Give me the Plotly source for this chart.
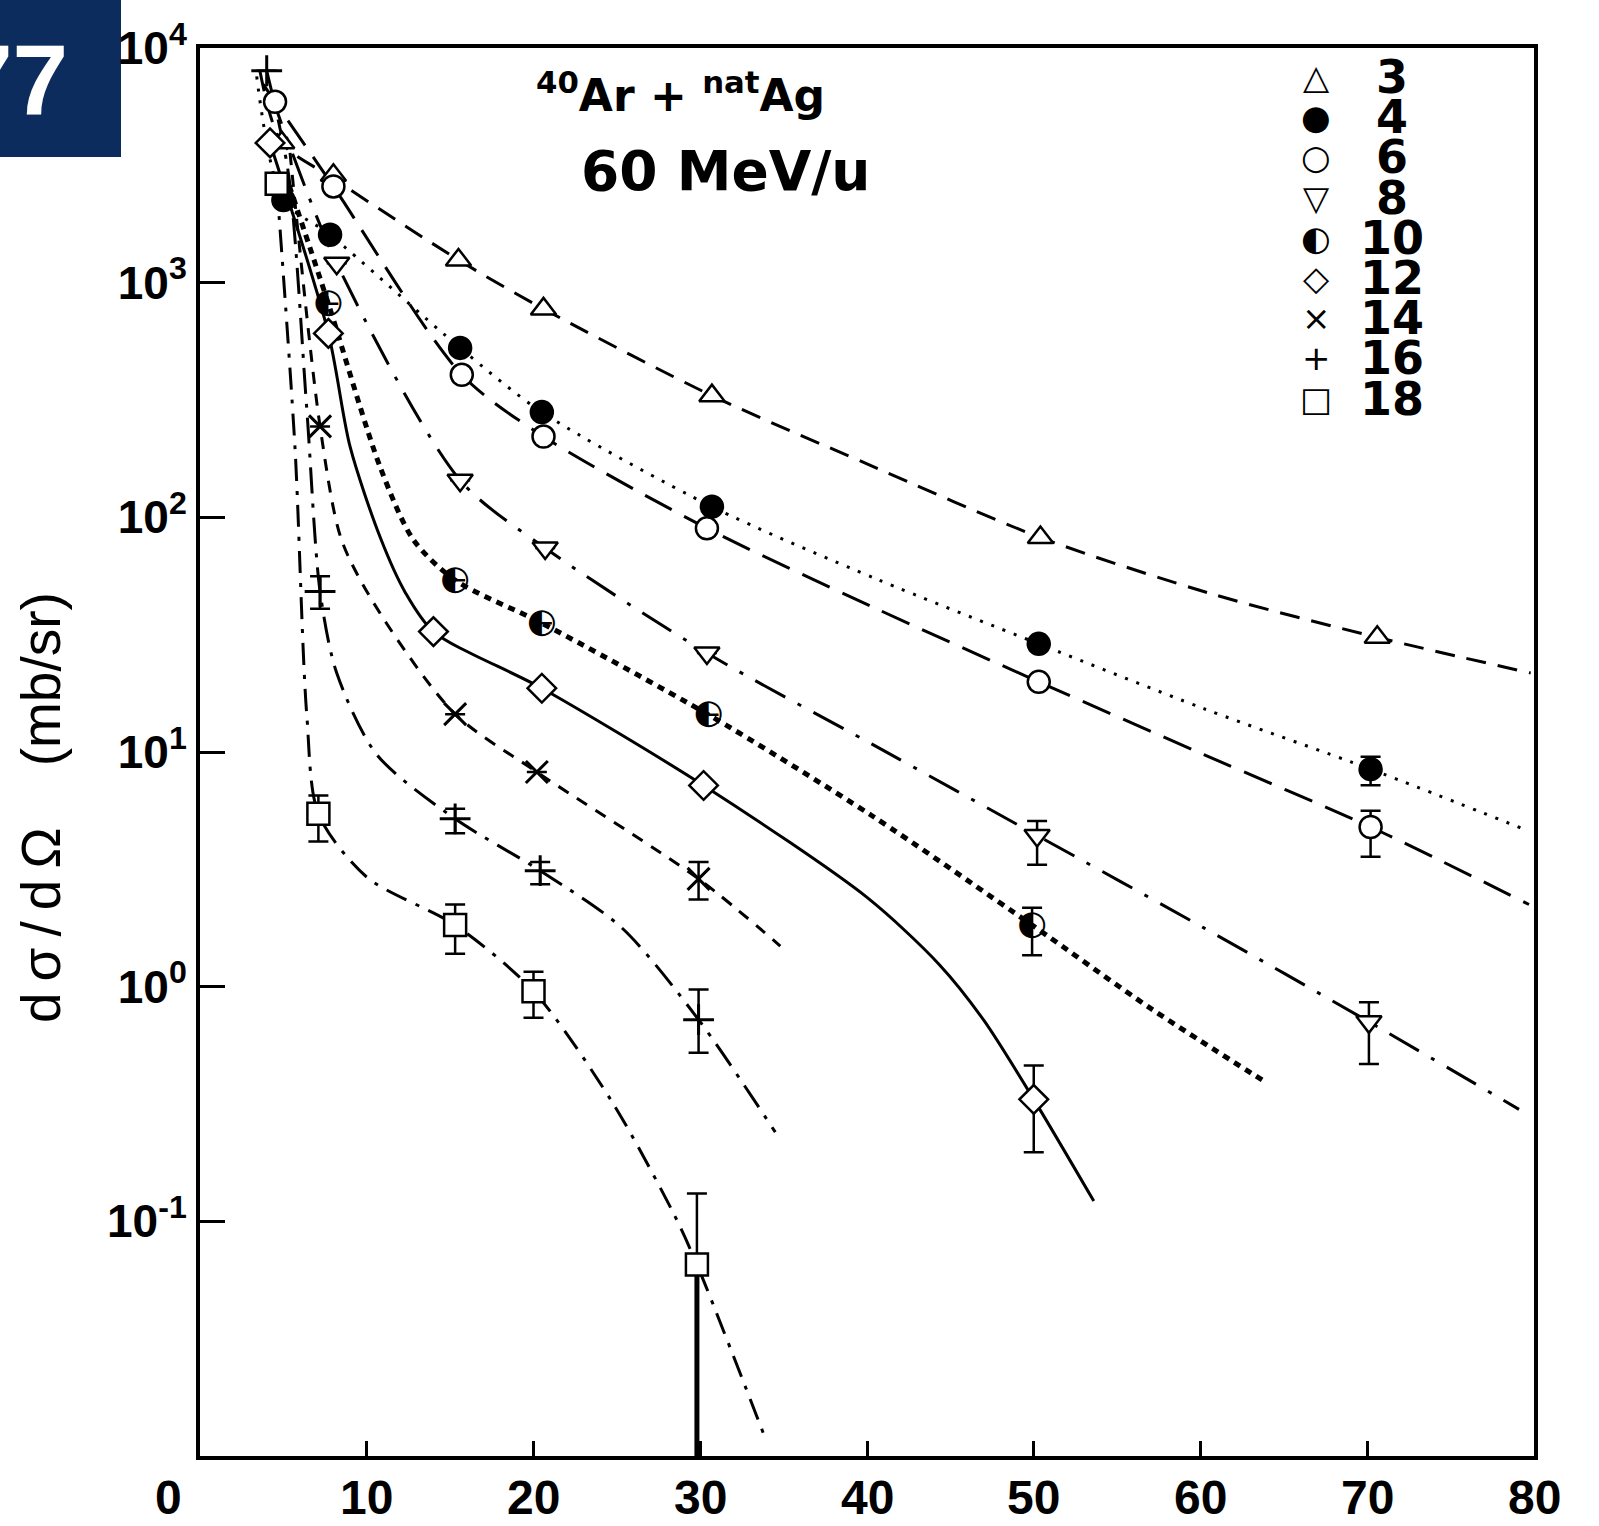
import plotly.graph_objects as go

# ---------------------------------------------------------------
# 40Ar + natAg at 60 MeV/u : fragment angular distributions
# x = laboratory angle (deg), y = dσ/dΩ (mb/sr), one set per fragment Z
# ---------------------------------------------------------------

# measured points
z3_x = [4.9, 8.0, 15.5, 20.6, 30.7, 50.4, 70.6]
z3_y = [3950, 2870, 1250, 773, 330, 82, 30.8]

z4_x = [5.0, 7.8, 15.6, 20.5, 30.7, 50.3, 70.2]
z4_y = [2250, 1600, 527, 281, 111, 28.9, 8.45]
z4_up = [None, None, None, None, None, None, 1.1]
z4_dn = [None, None, None, None, None, None, 1.24]

z6_x = [4.5, 8.0, 15.7, 20.6, 30.4, 50.3, 70.2]
z6_y = [5900, 2570, 405, 221, 89.8, 19.9, 4.79]
z6_up = [None, None, None, None, None, None, 0.83]
z6_dn = [None, None, None, None, None, None, 1.21]

z8_x = [8.2, 15.6, 20.7, 30.4, 50.2, 70.1]
z8_y = [1210, 144, 74, 26.4, 4.41, 0.708]
z8_up = [None, None, None, None, 0.67, 0.15]
z8_dn = [None, None, None, None, 1.10, 0.24]

z10_x = [7.7, 15.3, 20.5, 30.5, 49.9]
z10_y = [813, 54, 35.4, 14.4, 1.83]
z10_up = [None, None, None, None, 0.34]
z10_dn = [None, None, None, None, 0.47]

z12_x = [4.2, 7.7, 14.0, 20.5, 30.2, 50.0]
z12_y = [3940, 608, 32.6, 18.7, 7.2, 0.331]
z12_up = [None, None, None, None, None, 0.13]
z12_dn = [None, None, None, None, None, 0.134]

z14_x = [7.2, 15.3, 20.2, 29.9]
z14_y = [244, 14.5, 8.22, 2.88]
z14_up = [None, None, None, 0.52]
z14_dn = [None, None, None, 0.53]

z16_x = [4.0, 7.2, 15.3, 20.4, 29.9]
z16_y = [8000, 48.3, 5.19, 3.12, 0.723]
z16_up = [None, 7.8, 0.54, 0.28, 0.25]
z16_dn = [None, 7.5, 0.68, 0.39, 0.20]

z18_x = [4.6, 7.1, 15.3, 20.0, 29.8]
z18_y = [2640, 5.45, 1.83, 0.957, 0.0655]
z18_up = [None, 1.08, 0.41, 0.20, 0.066]
z18_dn = [None, 1.29, 0.45, 0.22, None]
z18_last_dn = 0.0650   # lower error of the 30 deg point reaches below the axis

# calculated curves
fit3_x = [3.6, 4.9, 8.0, 15.5, 20.6, 30.7, 40.0, 50.4, 60.8, 70.6, 79.8]
fit3_y = [7940, 3950, 2780, 1250, 773, 330, 169, 82, 46.9, 30.8, 21.7]

fit4_x = [3.4, 5.0, 7.8, 15.6, 20.5, 30.7, 40.6, 50.3, 60.2, 70.2, 79.7]
fit4_y = [7570, 2250, 1600, 527, 281, 111, 54.5, 28.9, 15.3, 8.45, 4.6]

fit6_x = [3.8, 4.5, 8.0, 15.7, 20.6, 30.4, 40.3, 50.3, 60.2, 70.2, 79.7]
fit6_y = [7000, 5900, 2570, 405, 221, 89.8, 41.6, 19.9, 9.75, 4.79, 2.24]

fit8_x = [4.2, 8.2, 15.6, 20.7, 30.4, 40.3, 50.2, 60.2, 70.1, 79.1]
fit8_y = [6520, 1210, 144, 74, 26.4, 10.8, 4.41, 1.78, 0.708, 0.30]

fit10_x = [5.1, 7.7, 10.8, 12.8, 15.3, 20.5, 30.5, 40.3, 49.9, 57.1, 64.0]
fit10_y = [2930, 813, 164, 80.2, 54, 35.4, 14.4, 5.35, 1.83, 0.80, 0.388]

fit12_x = [4.2, 7.7, 9.0, 10.8, 12.3, 14.0, 20.5, 30.2, 40.0, 44.3, 47.0, 50.0, 53.6]
fit12_y = [3940, 608, 200, 82.4, 48, 32.6, 18.7, 7.2, 2.40, 1.25, 0.72, 0.331, 0.122]

fit14_x = [5.4, 7.2, 8.5, 10.8, 15.3, 20.2, 29.9, 34.8]
fit14_y = [3570, 244, 79.7, 39, 14.5, 8.22, 2.88, 1.49]

fit16_x = [4.0, 5.3, 6.4, 7.2, 8.2, 10.6, 15.3, 20.4, 25.3, 29.9, 34.5]
fit16_y = [8000, 2930, 292, 48.3, 21.7, 9.75, 5.19, 3.12, 1.78, 0.723, 0.240]

fit18_x = [4.6, 5.7, 6.4, 7.1, 10.0, 15.3, 20.0, 24.7, 28.4, 29.8, 33.9]
fit18_y = [2640, 196, 14.5, 5.45, 2.93, 1.83, 0.957, 0.324, 0.108, 0.0655, 0.0119]

legend_labels = ["3", "4", "6", "8", "10", "12", "14", "16", "18"]
legend_glyphs = ["△", "●", "○", "▽", "◐", "◇", "×", "+", "□"]

x_ticks = [10, 20, 30, 40, 50, 60, 70, 80]
y_ticks = [0.1, 1, 10, 100, 1000, 10000]
y_tick_text = ["10<sup>-1</sup>", "10<sup>0</sup>", "10<sup>1</sup>",
               "10<sup>2</sup>", "10<sup>3</sup>", "10<sup>4</sup>"]

# ---------------------------------------------------------------
W, H = 1599, 1526
ML, MR, MT, MB = 200, 65, 48, 70
PW, PH = W - ML - MR, H - MT - MB


def paper_x(px):
    return (px - ML) / PW


def paper_y(py):
    return 1 - (py - MT) / PH


INK = "black"
fig = go.Figure()

curves = [
    (fit3_x, fit3_y, dict(width=3, dash="20px,12px")),
    (fit4_x, fit4_y, dict(width=3, dash="3px,9px")),
    (fit6_x, fit6_y, dict(width=3, dash="30px,14px")),
    (fit8_x, fit8_y, dict(width=3, dash="34px,14px,4px,14px")),
    (fit10_x, fit10_y, dict(width=5, dash="7px,6px")),
    (fit12_x, fit12_y, dict(width=3)),
    (fit14_x, fit14_y, dict(width=3, dash="12px,10px")),
    (fit16_x, fit16_y, dict(width=3, dash="26px,10px,4px,10px")),
    (fit18_x, fit18_y, dict(width=3, dash="22px,10px,4px,10px")),
]
for cx, cy, ln in curves:
    fig.add_trace(go.Scatter(x=cx, y=cy, mode="lines",
                             line=dict(color=INK, shape="spline", smoothing=0.8, **ln),
                             hoverinfo="skip"))


def err(up, dn, thick=2.5):
    return dict(type="data", symmetric=False, array=up, arrayminus=dn,
                color=INK, thickness=thick, width=10)


# thick lower bar of the Z=18 point at 30 deg
fig.add_trace(go.Scatter(x=z18_x[-1:], y=z18_y[-1:], mode="markers",
                         marker=dict(size=1, color="rgba(0,0,0,0)"),
                         error_y=dict(type="data", symmetric=False, array=[0],
                                      arrayminus=[z18_last_dn], color=INK,
                                      thickness=5, width=0)))

MS = 22
LW = 2.5
sets = [
    (z3_x, z3_y, None, None, "triangle-up", "white"),
    (z4_x, z4_y, z4_up, z4_dn, "circle", INK),
    (z6_x, z6_y, z6_up, z6_dn, "circle", "white"),
    (z8_x, z8_y, z8_up, z8_dn, "triangle-down", "white"),
    (z12_x, z12_y, z12_up, z12_dn, "diamond", "white"),
    (z14_x, z14_y, z14_up, z14_dn, "x-thin", INK),
    (z16_x, z16_y, z16_up, z16_dn, "cross-thin", INK),
    (z18_x, z18_y, z18_up, z18_dn, "square", "white"),
]
for sx, sy, up, dn, sym, fill in sets:
    kw = {}
    if up is not None:
        kw["error_y"] = err(up, dn)
    thin = sym.endswith("thin")
    fig.add_trace(go.Scatter(
        x=sx, y=sy, mode="markers",
        marker=dict(symbol=sym, size=MS if thin else MS, color=fill,
                    line=dict(color=INK, width=3 if thin else LW)),
        **kw))

# half-filled circles for Z=10
fig.add_trace(go.Scatter(
    x=z10_x, y=z10_y, mode="text", text=["◐"] * len(z10_x),
    textposition="middle center",
    textfont=dict(family="DejaVu Sans", size=34, color=INK),
    error_y=err(z10_up, z10_dn)))

fig.update_xaxes(
    range=[0, 80], tickvals=x_ticks, showticklabels=False,
    ticks="inside", ticklen=15, tickwidth=3, tickcolor=INK,
    showline=True, linewidth=4, linecolor=INK, mirror=True,
    showgrid=False, zeroline=False, automargin=False)
fig.update_yaxes(
    type="log", range=[-2, 4], tickvals=y_ticks,
    ticktext=[f"<b>{t}</b>" for t in y_tick_text],
    ticks="inside", ticklen=25, tickwidth=3, tickcolor=INK,
    showline=True, linewidth=4, linecolor=INK, mirror=True,
    showgrid=False, zeroline=False,
    tickfont=dict(family="Liberation Sans", size=46, color=INK), automargin=False)

XFONT = dict(family="Liberation Sans", size=48, color=INK)
ann = []
# angle labels under the axis
ann.append(dict(xref="paper", yref="paper", x=paper_x(168), y=paper_y(1497),
                text="<b>0</b>", showarrow=False, font=XFONT,
                xanchor="center", yanchor="middle"))
for v in x_ticks:
    ann.append(dict(xref="x", yref="paper", x=v, y=paper_y(1497),
                    text=f"<b>{v}</b>", showarrow=False, font=XFONT,
                    xanchor="center", yanchor="middle"))
# axis title
ann.append(dict(xref="paper", yref="paper", x=paper_x(41), y=paper_y(808),
                text="d\u2009σ\u2009/\u2009d\u2009Ω&nbsp;&nbsp;&nbsp;&nbsp;(mb/sr)",
                textangle=-90, showarrow=False,
                font=dict(family="Liberation Sans", size=55, color=INK),
                xanchor="center", yanchor="middle"))
# reaction and energy
ann.append(dict(xref="paper", yref="paper", x=paper_x(680), y=paper_y(92),
                text="<sup>40</sup>Ar + <sup>nat</sup>Ag", showarrow=False,
                font=dict(family="DejaVu Sans", size=44, color=INK, weight="bold"),
                xanchor="center", yanchor="middle"))
ann.append(dict(xref="paper", yref="paper", x=paper_x(726), y=paper_y(171),
                text="<b>60 MeV/u</b>", showarrow=False,
                font=dict(family="DejaVu Sans", size=55, color=INK),
                xanchor="center", yanchor="middle"))
# key
row0, dy = 77, 40.2
for i, (g, lab) in enumerate(zip(legend_glyphs, legend_labels)):
    py = row0 + i * dy
    ann.append(dict(xref="paper", yref="paper", x=paper_x(1316), y=paper_y(py),
                    text=g, showarrow=False,
                    font=dict(family="DejaVu Sans", size=34, color=INK),
                    xanchor="center", yanchor="middle"))
    ann.append(dict(xref="paper", yref="paper", x=paper_x(1392), y=paper_y(py),
                    text=f"<b>{lab}</b>", showarrow=False,
                    font=dict(family="DejaVu Sans", size=46, color=INK),
                    xanchor="center", yanchor="middle"))
# page badge
ann.append(dict(xref="paper", yref="paper", x=paper_x(70), y=paper_y(80),
                text="<b>77</b>", showarrow=False,
                font=dict(family="Liberation Sans", size=100, color="white"),
                xanchor="right", yanchor="middle"))

shapes = [dict(type="rect", xref="paper", yref="paper",
               x0=paper_x(-5), x1=paper_x(121), y0=paper_y(157), y1=paper_y(-5),
               fillcolor="#0b2c5c", line=dict(width=0), layer="below")]

fig.update_layout(
    width=W, height=H, margin=dict(l=ML, r=MR, t=MT, b=MB),
    paper_bgcolor="white", plot_bgcolor="white", showlegend=False,
    annotations=ann, shapes=shapes)

fig.write_html("out.html")
